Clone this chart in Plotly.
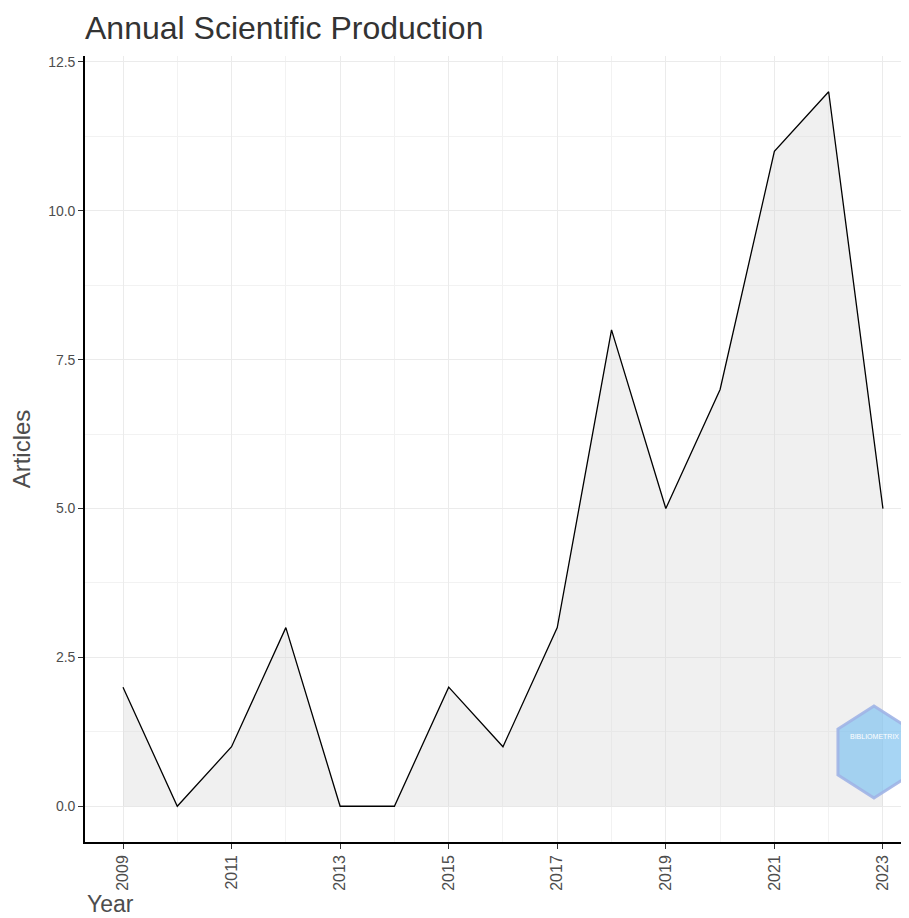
import plotly.graph_objects as go

# Årlig produktion
years = [2009, 2010, 2011, 2012, 2013, 2014, 2015, 2016, 2017, 2018, 2019, 2020, 2021, 2022, 2023]
articles = [2, 0, 1, 3, 0, 0, 2, 1, 3, 8, 5, 7, 11, 12, 5]

title_text = "Annual Scientific Production"
x_title = "Year"
y_title = "Articles"

grey = "#4D4D4D"
font = "Liberation Sans, Arial, sans-serif"

fig = go.Figure()
fig.add_trace(go.Scatter(
    x=years, y=articles, mode="lines",
    line=dict(color="black", width=1.3),
    fill="tozeroy", fillcolor="rgba(215,215,215,0.38)",
    showlegend=False, hoverinfo="x+y",
))

# sidan har 8px marginal, därför förskjutna marginaler
fig.update_layout(
    width=901, height=910,
    margin=dict(l=77, r=0, t=48, b=76, autoexpand=False),
    paper_bgcolor="white", plot_bgcolor="white",
    font=dict(family=font, color=grey),
    title=dict(text=title_text, x=0, xref="paper", xanchor="left",
               y=1 - 20 / 910, yref="container", yanchor="middle",
               font=dict(size=32, color="#333333")),
    annotations=[dict(text=x_title, xref="paper", yref="paper", x=0, y=-0.079,
                      xanchor="left", yanchor="middle", showarrow=False,
                      font=dict(size=23, color=grey))],
)

# Bibliometrix-logga (förenklad hexagon)
hx, hy, hw, hh = 874, 752, 36, 46
hex_pts = [(hx, hy - hh), (hx + hw, hy - hh / 2), (hx + hw, hy + hh / 2),
           (hx, hy + hh), (hx - hw, hy + hh / 2), (hx - hw, hy - hh / 2)]
def to_paper(px, py):
    return (px - 85) / 824, (842 - py) / 786
path = "M " + " L ".join(f"{to_paper(a, b)[0]:.4f},{to_paper(a, b)[1]:.4f}" for a, b in hex_pts) + " Z"
fig.add_shape(type="path", path=path, xref="paper", yref="paper",
              fillcolor="rgba(130,195,240,0.7)", line=dict(color="rgba(160,180,230,0.9)", width=3))
fig.add_annotation(text="BIBLIOMETRIX", xref="paper", yref="paper",
                   x=to_paper(874, 742)[0], y=to_paper(874, 742)[1], showarrow=False,
                   font=dict(size=7, color="white", family=font), xanchor="center")

fig.update_xaxes(
    range=[2008.3, 2023.48], tickmode="linear", tick0=2009, dtick=2,
    tickangle=-90, tickfont=dict(size=16, color=grey), automargin=False,
    ticks="outside", ticklen=5, tickcolor="#333333", tickwidth=1.2,
    showline=True, linecolor="black", linewidth=1.6,
    showgrid=True, gridcolor="#EBEBEB", gridwidth=1.3, zeroline=False,
    minor=dict(dtick=1, tick0=2009, showgrid=True, gridcolor="#F2F2F2", gridwidth=1, ticks=""),
)
fig.update_yaxes(
    range=[-0.6, 12.6], tickmode="linear", tick0=0, dtick=2.5, tickformat=".1f",
    tickfont=dict(size=14, color=grey), automargin=False,
    ticks="outside", ticklen=5, tickcolor="#333333", tickwidth=1.2,
    showline=True, linecolor="black", linewidth=1.6,
    showgrid=True, gridcolor="#EBEBEB", gridwidth=1.3, zeroline=False,
    minor=dict(dtick=1.25, tick0=0, showgrid=True, gridcolor="#F2F2F2", gridwidth=1, ticks=""),
    title=dict(text=y_title, font=dict(size=24, color=grey), standoff=16),
)

fig.write_html("out.html")
